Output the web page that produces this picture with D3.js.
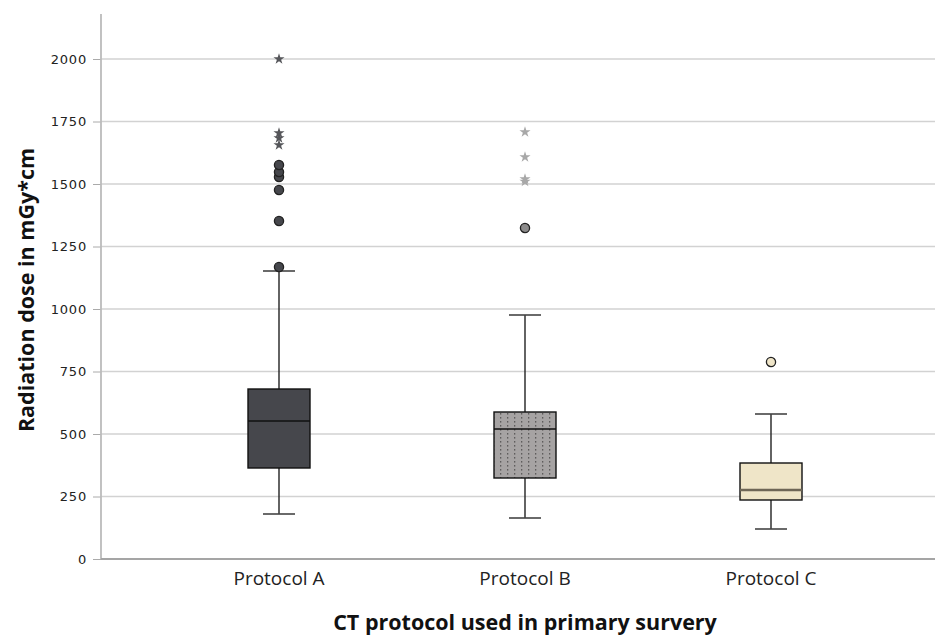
<!DOCTYPE html>
<html lang="en">
<head>
<meta charset="UTF-8">
<title>Radiation dose by CT protocol</title>
<script src="https://d3js.org/d3.v7.min.js"></script>
<style>
    body { margin: 0; background: #fff; }
    text { font-family: "Open Sans", "DejaVu Sans", sans-serif; }
</style>
</head>
<body>
<script>
    // values (mGy*cm)
    var categories = ["Protocol A", "Protocol B", "Protocol C"];
    var q1 = [364, 324, 236];
    var median = [552, 520, 276];
    var q3 = [680, 588, 384];
    var whiskerLow = [180, 164, 120];
    var whiskerHigh = [1152, 976, 580];
    var outlierCircles = [
        [1168, 1352, 1476, 1528, 1548, 1576],
        [1324],
        [788]
    ];
    var outlierStars = [
        [1656, 1684, 1704, 2000],
        [1510, 1520, 1608, 1708],
        []
    ];
    var yTicks = [0, 250, 500, 750, 1000, 1250, 1500, 1750, 2000];

    var boxFill = ["#46474c", "url(#dots)", "#efe5c8"];
    var circleFill = ["#46474c", "#8c8b8b", "#efe5c8"];
    var starFill = ["#55565a", "#a8a8a8", "#999"];

    var width = 935, height = 639;
    var svg = d3.select("body").append("svg")
        .attr("width", width)
        .attr("height", height);

    var defs = svg.append("defs");
    var pat = defs.append("pattern")
        .attr("id", "dots")
        .attr("patternUnits", "userSpaceOnUse")
        .attr("width", 7).attr("height", 4);
    pat.append("rect").attr("width", 7).attr("height", 4).attr("fill", "#a6a3a3");
    pat.append("rect").attr("x", 3).attr("y", 1).attr("width", 1.3).attr("height", 1.6).attr("fill", "#5e5c5c");

    var x = d3.scaleBand().domain(categories).range([156, 894]);
    var y = d3.scaleLinear().domain([0, 2180]).range([559, 14]);
    var boxW = 62, capW = 32;

    // gridlines
    svg.append("g").selectAll("line")
        .data(yTicks.filter(function(d) { return d > 0; }))
        .enter().append("line")
        .attr("x1", 101).attr("x2", width)
        .attr("y1", function(d) { return y(d); })
        .attr("y2", function(d) { return y(d); })
        .attr("stroke", "#d2d2d2").attr("stroke-width", 1.6);

    // y axis
    var yAxis = svg.append("g")
        .attr("transform", "translate(101,0)")
        .call(d3.axisLeft(y).tickValues(yTicks).tickFormat(d3.format("d")).tickSize(8).tickPadding(6));
    yAxis.select(".domain").remove();
    yAxis.selectAll(".tick line").attr("stroke", "#aaa");
    yAxis.selectAll("text").attr("font-size", 13).attr("fill", "#222")
        .attr("letter-spacing", 0.8)
        .style("font-family", "'DejaVu Sans', sans-serif");
    svg.append("line")
        .attr("x1", 101).attr("x2", 101)
        .attr("y1", y(2180)).attr("y2", y(0))
        .attr("stroke", "#bbb").attr("stroke-width", 1.8);

    // x axis baseline
    svg.append("line")
        .attr("x1", 101).attr("x2", width)
        .attr("y1", y(0)).attr("y2", y(0))
        .attr("stroke", "#a5a5a5").attr("stroke-width", 2);

    var xAxis = svg.append("g")
        .attr("transform", "translate(0," + y(0) + ")")
        .call(d3.axisBottom(x).tickSize(0).tickPadding(13));
    xAxis.select(".domain").remove();
    xAxis.selectAll("text").attr("font-size", 19).attr("fill", "#222");

    // boxes
    var groups = svg.append("g").selectAll("g")
        .data(categories)
        .enter().append("g")
        .attr("transform", function(d) { return "translate(" + (x(d) + x.bandwidth() / 2) + ",0)"; });

    groups.append("line")
        .attr("y1", function(d, i) { return y(whiskerLow[i]); })
        .attr("y2", function(d, i) { return y(whiskerHigh[i]); })
        .attr("stroke", "#222").attr("stroke-width", 1.4);
    groups.append("line")
        .attr("x1", -capW / 2).attr("x2", capW / 2)
        .attr("y1", function(d, i) { return y(whiskerLow[i]); })
        .attr("y2", function(d, i) { return y(whiskerLow[i]); })
        .attr("stroke", "#444").attr("stroke-width", 1.6);
    groups.append("line")
        .attr("x1", -capW / 2).attr("x2", capW / 2)
        .attr("y1", function(d, i) { return y(whiskerHigh[i]); })
        .attr("y2", function(d, i) { return y(whiskerHigh[i]); })
        .attr("stroke", "#444").attr("stroke-width", 1.6);
    groups.append("rect")
        .attr("x", -boxW / 2).attr("width", boxW)
        .attr("y", function(d, i) { return y(q3[i]); })
        .attr("height", function(d, i) { return y(q1[i]) - y(q3[i]); })
        .attr("fill", function(d, i) { return boxFill[i]; })
        .attr("stroke", "#111").attr("stroke-width", 1.4);
    groups.append("line")
        .attr("x1", -boxW / 2).attr("x2", boxW / 2)
        .attr("y1", function(d, i) { return y(median[i]); })
        .attr("y2", function(d, i) { return y(median[i]); })
        .attr("stroke", function(d, i) { return i === 2 ? "#6e6656" : "#111"; })
        .attr("stroke-width", function(d, i) { return i === 2 ? 2.6 : 1.6; });

    // outliers
    groups.each(function(d, i) {
        var g = d3.select(this);
        g.selectAll("circle.out")
            .data(outlierCircles[i])
            .enter().append("circle")
            .attr("class", "out")
            .attr("cy", function(v) { return y(v); })
            .attr("r", 4.6)
            .attr("fill", circleFill[i])
            .attr("stroke", "#222").attr("stroke-width", 1.3);
        g.selectAll("path.star")
            .data(outlierStars[i])
            .enter().append("path")
            .attr("class", "star")
            .attr("transform", function(v) { return "translate(0," + y(v) + ")"; })
            .attr("d", d3.symbol().type(d3.symbolStar).size(38))
            .attr("fill", starFill[i]);
    });

    // titles
    svg.append("text")
        .attr("x", 525).attr("y", 630)
        .attr("text-anchor", "middle")
        .attr("font-size", 21.5).attr("font-weight", "bold").attr("fill", "#111")
        .text("CT protocol used in primary survery");
    svg.append("text")
        .attr("transform", "translate(34,290) rotate(-90)")
        .attr("text-anchor", "middle")
        .attr("font-size", 21.5).attr("font-weight", "bold").attr("fill", "#111")
        .text("Radiation dose in mGy*cm");
</script>
</body>
</html>
